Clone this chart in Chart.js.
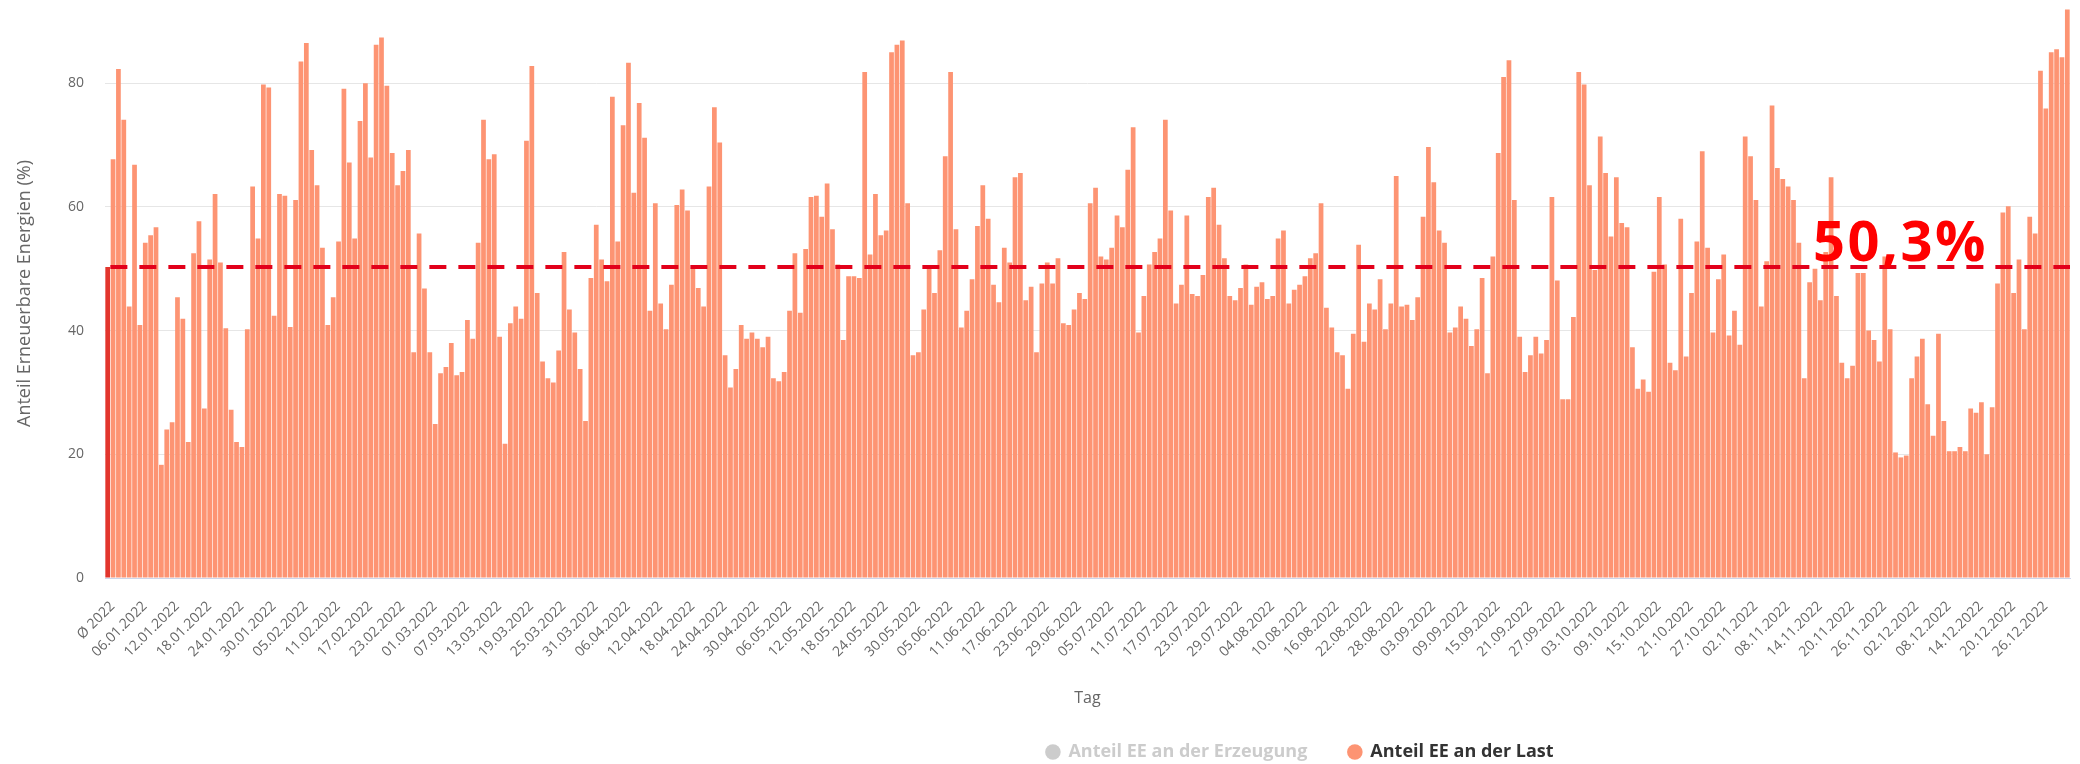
<!DOCTYPE html>
<html lang="de">
<head>
<meta charset="utf-8">
<title>Anteil EE an der Last 2022</title>
<script src="https://cdn.jsdelivr.net/npm/chart.js@4.4.1/dist/chart.umd.min.js"></script>
<style>
  html, body { margin: 0; padding: 0; background: #fff; }
  #wrap { width: 2080px; height: 764px; }
</style>
</head>
<body>
<div id="wrap"><canvas id="eeChart"></canvas></div>
<script>
// Tageswerte Anteil EE an der Last (%), 2022
const yearAverage = 50.3;
const jan = [67.7, 82.3, 74.1, 43.9, 66.8, 40.9, 54.2, 55.4, 56.7, 18.3, 24.0, 25.2, 45.4, 41.9, 22.0, 52.5, 57.7, 27.4, 51.5, 62.1, 51.0, 40.4, 27.2, 22.0, 21.2, 40.2, 63.3, 54.9, 79.8, 79.3, 42.4];
const feb = [62.1, 61.8, 40.6, 61.1, 83.5, 86.5, 69.2, 63.5, 53.4, 40.9, 45.4, 54.4, 79.1, 67.2, 54.9, 73.9, 80.0, 68.0, 86.2, 87.4, 79.6, 68.7, 63.5, 65.8, 69.2, 36.5, 55.7, 46.8];
const mar = [36.5, 24.9, 33.1, 34.1, 38.0, 32.8, 33.3, 41.7, 38.7, 54.2, 74.1, 67.7, 68.5, 39.0, 21.7, 41.2, 43.9, 41.9, 70.7, 82.8, 46.1, 35.0, 32.3, 31.6, 36.8, 52.7, 43.4, 39.7, 33.8, 25.4, 48.5];
const apr = [57.1, 51.5, 48.0, 77.8, 54.4, 73.2, 83.3, 62.3, 76.8, 71.2, 43.2, 60.6, 44.4, 40.2, 47.4, 60.3, 62.8, 59.4, 50.0, 46.9, 43.9, 63.3, 76.1, 70.4, 36.0, 30.8, 33.8, 40.9, 38.7, 39.7];
const may = [38.7, 37.3, 39.0, 32.3, 31.8, 33.3, 43.2, 52.5, 42.9, 53.2, 61.6, 61.8, 58.4, 63.8, 56.4, 50.7, 38.5, 48.8, 48.8, 48.5, 81.8, 52.3, 62.1, 55.4, 56.2, 85.0, 86.2, 86.9, 60.6, 36.0, 36.5];
const jun = [43.4, 50.5, 46.1, 53.0, 68.2, 81.8, 56.4, 40.5, 43.2, 48.3, 56.9, 63.5, 58.1, 47.4, 44.6, 53.4, 51.0, 64.8, 65.5, 44.9, 47.1, 36.5, 47.6, 51.0, 47.6, 51.7, 41.2, 40.9, 43.4, 46.1];
const jul = [45.1, 60.6, 63.1, 52.0, 51.5, 53.4, 58.6, 56.7, 66.0, 72.9, 39.7, 45.6, 50.7, 52.7, 54.9, 74.1, 59.4, 44.4, 47.4, 58.6, 45.9, 45.6, 49.0, 61.6, 63.1, 57.1, 51.7, 45.6, 44.9, 46.9, 50.7];
const aug = [44.2, 47.1, 47.8, 45.1, 45.6, 54.9, 56.2, 44.4, 46.6, 47.4, 48.8, 51.7, 52.5, 60.6, 43.7, 40.5, 36.5, 36.0, 30.6, 39.5, 53.9, 38.2, 44.4, 43.4, 48.3, 40.2, 44.4, 65.0, 43.9, 44.2, 41.7];
const sep = [45.4, 58.4, 69.7, 64.0, 56.2, 54.2, 39.7, 40.5, 43.9, 41.9, 37.5, 40.2, 48.5, 33.1, 52.0, 68.7, 81.0, 83.7, 61.1, 39.0, 33.3, 36.0, 39.0, 36.3, 38.5, 61.6, 48.1, 28.9, 28.9, 42.2];
const oct = [81.8, 79.8, 63.5, 49.8, 71.4, 65.5, 55.2, 64.8, 57.4, 56.7, 37.3, 30.6, 32.1, 30.1, 49.5, 61.6, 50.7, 34.8, 33.6, 58.1, 35.8, 46.1, 54.4, 69.0, 53.4, 39.7, 48.3, 52.3, 39.2, 43.2, 37.7];
const nov = [71.4, 68.2, 61.1, 43.9, 51.2, 76.4, 66.3, 64.5, 63.3, 61.1, 54.2, 32.3, 47.8, 50.0, 44.9, 52.7, 64.8, 45.6, 34.8, 32.3, 34.3, 49.3, 49.3, 40.0, 38.5, 35.0, 52.0, 40.2, 20.3, 19.5];
const dec = [19.8, 32.3, 35.8, 38.7, 28.1, 23.0, 39.5, 25.4, 20.5, 20.5, 21.2, 20.5, 27.4, 26.7, 28.4, 20.0, 27.6, 47.6, 59.1, 60.1, 46.1, 51.5, 40.2, 58.4, 55.7, 82.0, 75.9, 85.0, 85.5, 84.2, 91.9];
const yTicks = [0, 20, 40, 60, 80];

const months = [jan, feb, mar, apr, may, jun, jul, aug, sep, oct, nov, dec];
const pad = n => String(n).padStart(2, '0');

// Kategorien: erst der Jahresmittelwert, dann jeder Tag
const labels = ['Ø 2022'];
const values = [yearAverage];
months.forEach((days, m) => {
    days.forEach((v, d) => {
        labels.push(pad(d + 1) + '.' + pad(m + 1) + '.2022');
        values.push(v);
    });
});

const barColor = '#fd9473';
const avgColor = '#e2352d';
const lineColor = '#e2001a';
const textFont = "'Open Sans', 'DejaVu Sans', sans-serif";

const avgLine = {
    id: 'avgLine',
    afterDatasetsDraw(chart) {
        const { ctx, chartArea, scales: { x, y } } = chart;
        const yPix = y.getPixelForValue(yearAverage);
        const step = x.getPixelForValue(1) - x.getPixelForValue(0);
        ctx.save();
        ctx.strokeStyle = lineColor;
        ctx.lineWidth = 4;
        ctx.setLineDash([17, 12]);
        ctx.beginPath();
        ctx.moveTo(x.getPixelForValue(1) - step / 2, yPix);
        ctx.lineTo(chartArea.right, yPix);
        ctx.stroke();
        ctx.setLineDash([]);
        ctx.fillStyle = '#ff0000';
        ctx.font = 'bold 56px ' + textFont;
        ctx.letterSpacing = '2.5px';
        ctx.textAlign = 'right';
        ctx.textBaseline = 'alphabetic';
        const txt = yearAverage.toLocaleString('de-DE', { minimumFractionDigits: 1 }) + '%';
        ctx.fillText(txt, chartArea.right - 82, yPix - 6);
        ctx.restore();
    }
};

// Legende sitzt im Original etwas rechts der Mitte
const legendShift = {
    id: 'legendShift',
    afterLayout(chart) {
        chart.legend.left += 265;
        chart.legend.right += 265;
    }
};

const ctx = document.getElementById('eeChart').getContext('2d');
new Chart(ctx, {
    type: 'bar',
    data: {
        labels,
        datasets: [
            { label: 'Anteil EE an der Erzeugung', data: [], backgroundColor: '#cccccc', hidden: true },
            {
                label: 'Anteil EE an der Last',
                data: values,
                backgroundColor: values.map((v, i) => i === 0 ? avgColor : barColor),
                barPercentage: 0.88,
                categoryPercentage: 1
            }
        ]
    },
    options: {
        responsive: true,
        maintainAspectRatio: false,
        animation: false,
        layout: { padding: { top: 9, right: 10, left: 0, bottom: 0 } },
        plugins: {
            tooltip: { enabled: false },
            legend: {
                position: 'bottom',
                maxHeight: 62,
                onClick: null,
                labels: {
                    usePointStyle: true,
                    boxWidth: 13,
                    boxHeight: 11,
                    padding: 41,
                    font: { family: textFont, size: 18, weight: 'bold' },
                    generateLabels: chart => chart.data.datasets.map((ds, i) => ({
                        text: ds.label,
                        fillStyle: i === 0 ? '#cccccc' : barColor,
                        strokeStyle: i === 0 ? '#cccccc' : barColor,
                        fontColor: i === 0 ? '#cccccc' : '#333333',
                        lineWidth: 0,
                        pointStyle: 'circle',
                        hidden: false,
                        datasetIndex: i
                    }))
                }
            }
        },
        scales: {
            x: {
                grid: { display: false, drawTicks: false },
                border: { color: '#ccd6eb' },
                ticks: {
                    autoSkip: false,
                    maxRotation: 45,
                    minRotation: 45,
                    padding: 20,
                    labelOffset: 5,
                    color: '#666666',
                    font: { family: textFont, size: 14 },
                    callback: (v, i) => i % 6 === 0 ? labels[i] : null
                },
                title: {
                    display: true,
                    text: 'Tag',
                    color: '#666666',
                    font: { family: textFont, size: 16 },
                    padding: { top: 0, bottom: -6 }
                },
                afterFit: a => { a.height = 124; }
            },
            y: {
                min: 0,
                max: 92,
                grid: { color: '#e6e6e6', drawTicks: true, tickLength: 21, tickColor: 'rgba(0,0,0,0)' },
                border: { display: false },
                ticks: {
                    stepSize: 20,
                    padding: 0,
                    color: '#666666',
                    font: { family: textFont, size: 14 }
                },
                afterBuildTicks: a => { a.ticks = yTicks.map(v => ({ value: v })); },
                title: {
                    display: true,
                    text: 'Anteil Erneuerbare Energien (%)',
                    color: '#666666',
                    font: { family: textFont, size: 18 },
                    padding: { top: 14, bottom: 0 }
                },
                afterFit: a => { a.width = 105; }
            }
        }
    },
    plugins: [avgLine, legendShift]
});
</script>
</body>
</html>
